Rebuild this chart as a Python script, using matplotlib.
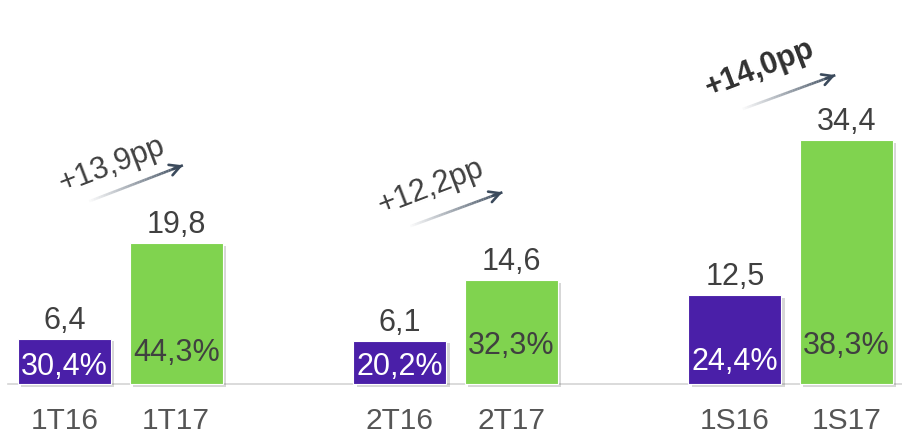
import numpy as np
import matplotlib
matplotlib.use("Agg")
import matplotlib.pyplot as plt
import matplotlib.patheffects as pe
from matplotlib.collections import LineCollection

plt.rcParams['font.family'] = ['Liberation Sans', 'DejaVu Sans']

# data
labels_16 = ["1T16", "2T16", "1S16"]
labels_17 = ["1T17", "2T17", "1S17"]
values_16 = [6.4, 6.1, 12.5]
values_17 = [19.8, 14.6, 34.4]
pct_16 = ["30,4%", "20,2%", "24,4%"]
pct_17 = ["44,3%", "32,3%", "38,3%"]
deltas = ["+13,9pp", "+12,2pp", "+14,0pp"]

purple = "#4a1fa8"
green = "#80d34f"
txt = "#404040"

fig = plt.figure(figsize=(9.03, 4.40), dpi=100)
ax = fig.add_axes([0, 0, 1, 1])
ax.set_xlim(-0.577, 7.506)
ax.set_ylim(-7.89, 54.08)
ax.axis("off")

x16 = np.arange(3) * 3
x17 = x16 + 1
w = 0.833

shadow = [pe.SimplePatchShadow(offset=(2.5, -2), alpha=0.25, shadow_rgbFace="#606060"), pe.Normal()]
b16 = ax.bar(x16, values_16, width=w, color=purple, edgecolor="white", lw=0.8)
b17 = ax.bar(x17, values_17, width=w, color=green, edgecolor="white", lw=0.8)
for b in list(b16) + list(b17):
    b.set_path_effects(shadow)

# baseline
ax.axhline(0, xmin=8 / 903, xmax=1, color="#d4d4d4", lw=1.2, zorder=0)

# value labels above the bars
for x, v in zip(list(x16) + list(x17), values_16 + values_17):
    ax.text(x, v + 1.4, f"{v:.1f}".replace(".", ","), ha="center", va="baseline",
            fontsize=22, color=txt)

# percentage labels inside the bars
pct_y16 = [2.4, 2.4, 3.1]
pct_y17 = [4.4, 5.35, 5.35]
for x, p, y in zip(x16, pct_16, pct_y16):
    ax.text(x, y, p, ha="center", va="center", fontsize=22, color="white")
for x, p, y in zip(x17, pct_17, pct_y17):
    ax.text(x, y, p, ha="center", va="center", fontsize=22, color=txt)

# category labels
for x, l in zip(list(x16) + list(x17), labels_16 + labels_17):
    ax.text(x, -5.2, l, ha="center", va="center", fontsize=21.5, color="#555555")


def grad_arrow(x0, y0, x1, y1):
    n = 40
    xs = np.linspace(x0, x1, n + 1)
    ys = np.linspace(y0, y1, n + 1)
    segs = [[(xs[i], ys[i]), (xs[i + 1], ys[i + 1])] for i in range(n)]
    cols = [(0.23, 0.29, 0.36, a) for a in np.linspace(0.0, 1.0, n)]
    ax.add_collection(LineCollection(segs, colors=cols, linewidths=1.9, capstyle="butt"))
    ax.annotate("", xy=(x1, y1), xytext=(x1 - (x1 - x0) * 0.1, y1 - (y1 - y0) * 0.1),
                arrowprops=dict(arrowstyle="->,head_length=0.75,head_width=0.4",
                                color="#3b4a5c", lw=1.9, shrinkA=0, shrinkB=0))


# growth arrows
arr_x0 = [0.2, 0.075, 0.05]
arr_x1 = [1.06, 0.92, 0.9]
arr_y0 = [25.6, 22.1, 38.6]
arr_y1 = [30.8, 27.0, 43.5]
lab_dx = [0.425, 0.28, 0.22]
lab_y = [30.8, 27.7, 44.5]
weights = ["normal", "normal", "bold"]
for i, g in enumerate(x16):
    grad_arrow(g + arr_x0[i], arr_y0[i], g + arr_x1[i], arr_y1[i])
    ax.text(g + lab_dx[i], lab_y[i], deltas[i], ha="center", va="center",
            rotation=21, rotation_mode="anchor", fontsize=22,
            color="#303030" if i == 2 else txt, fontweight=weights[i])

fig.savefig("out.png", dpi=100)
